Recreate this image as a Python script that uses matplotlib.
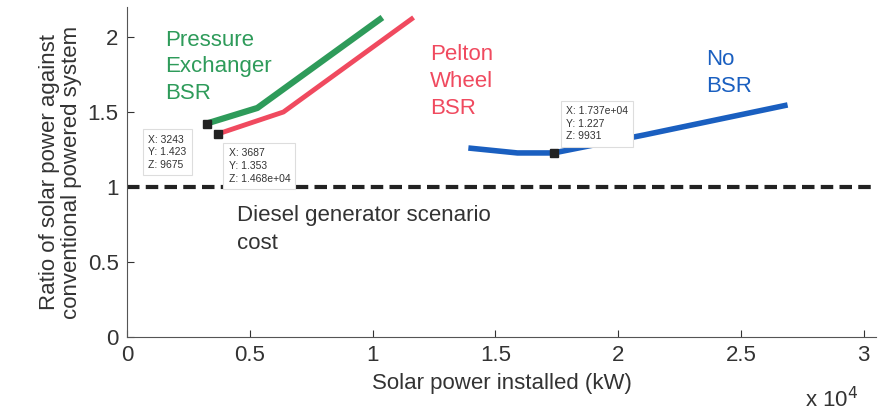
import matplotlib.pyplot as plt

# Solar power installed (kW) vs cost ratio for each brine recovery option
px_x = [3243, 5310, 10400]
px_y = [1.423, 1.527, 2.13]
pw_x = [3687, 6370, 11670]
pw_y = [1.353, 1.50, 2.13]
nb_x = [13900, 15900, 17370, 21060, 26900]
nb_y = [1.26, 1.227, 1.227, 1.347, 1.547]
diesel_ratio = 1.0

green = '#2e9b5a'
red = '#f04a5f'
blue = '#1a5fc0'
txt = '#333333'

plt.rcParams['font.family'] = 'Liberation Sans'
fig = plt.figure(figsize=(8.81, 4.15), dpi=100)
ax = fig.add_axes([127 / 881, 78 / 415, 749 / 881, 330 / 415])

ax.plot(px_x, px_y, color=green, linewidth=4.5, solid_capstyle='butt')
ax.plot(pw_x, pw_y, color=red, linewidth=3.5, solid_capstyle='butt')
ax.plot(nb_x, nb_y, color=blue, linewidth=4, solid_capstyle='butt')
ax.axhline(diesel_ratio, color='#222222', linewidth=3, linestyle=(0, (3, 1.5)))

# data tips
tips = [(px_x[0], px_y[0], 'X: 3243\nY: 1.423\nZ: 9675', (-42, -8)),
        (pw_x[0], pw_y[0], 'X: 3687\nY: 1.353\nZ: 1.468e+04', (8, -10)),
        (nb_x[2], nb_y[2], 'X: 1.737e+04\nY: 1.227\nZ: 9931', (9, 34))]
for x, y, s, off in tips:
    ax.plot(x, y, 's', color='#222222', markersize=6, zorder=5)
    ax.annotate(s, (x, y), xytext=off, textcoords='offset points',
                fontsize=7.5, color=txt, va='top', ha='left', linespacing=1.35,
                zorder=6,
                bbox=dict(boxstyle='square,pad=0.5', fc='white', ec='#dddddd', lw=0.8))

ax.text(1550, 2.05, 'Pressure\nExchanger\nBSR', color=green, fontsize=16,
        va='top', linespacing=1.35)
ax.text(12350, 1.95, 'Pelton\nWheel\nBSR', color=red, fontsize=16,
        va='top', linespacing=1.35)
ax.text(23600, 1.92, 'No\nBSR', color=blue, fontsize=16,
        va='top', linespacing=1.35)
ax.text(4480, 0.88, 'Diesel generator scenario\ncost', color=txt, fontsize=16,
        va='top', linespacing=1.45)

ax.set_xlim(0, 30500)
ax.set_ylim(0, 2.2)
ax.set_xticks([0, 5000, 10000, 15000, 20000, 25000, 30000])
ax.set_xticklabels(['0', '0.5', '1', '1.5', '2', '2.5', '3'])
ax.set_yticks([0, 0.5, 1, 1.5, 2])
ax.set_yticklabels(['0', '0.5', '1', '1.5', '2'])
ax.tick_params(direction='in', length=5, labelsize=16, colors=txt, pad=6)
for s in ['top', 'right']:
    ax.spines[s].set_visible(False)
for s in ['left', 'bottom']:
    ax.spines[s].set_color('#555555')

ax.set_xlabel('Solar power installed (kW)', fontsize=16, color=txt, labelpad=5)
ax.set_ylabel('Ratio of solar power against\nconventional powered system',
              fontsize=16, color=txt, labelpad=4, linespacing=1.1)
fig.text(805 / 881, 8 / 415, r'x 10$^4$', fontsize=16, color=txt)

fig.savefig('out.png', dpi=100)
